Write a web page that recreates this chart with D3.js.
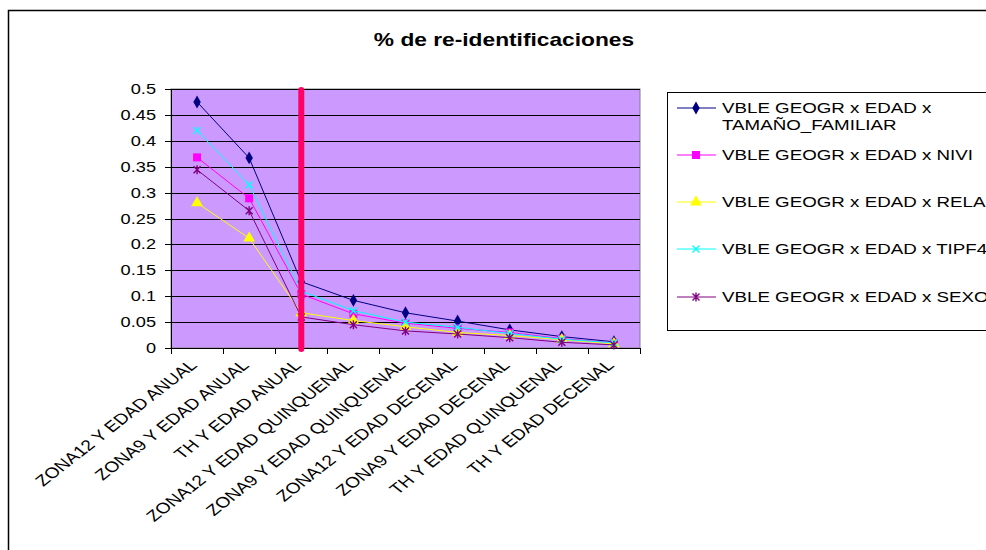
<!DOCTYPE html>
<html lang="es">
<head>
    <meta charset="utf-8">
    <title>% de re-identificaciones</title>
    <script src="https://cdn.jsdelivr.net/npm/d3@7"></script>
    <style type="text/css">
        body { margin: 0; background: #fff; }
        text { font-family: "Liberation Sans", Arial, sans-serif; fill: #000; }
    </style>
</head>
<body>
    <div id="chart"></div>
    <script>
        // categories on the x axis
        var categories = ["ZONA12 Y EDAD ANUAL", "ZONA9 Y EDAD ANUAL", "TH Y EDAD ANUAL",
            "ZONA12 Y EDAD QUINQUENAL", "ZONA9 Y EDAD QUINQUENAL", "ZONA12 Y EDAD DECENAL",
            "ZONA9 Y EDAD DECENAL", "TH Y EDAD QUINQUENAL", "TH Y EDAD DECENAL"];

        var seriesNames = ["VBLE GEOGR x EDAD x TAMAÑO_FAMILIAR", "VBLE GEOGR x EDAD x NIVI",
            "VBLE GEOGR x EDAD x RELA", "VBLE GEOGR x EDAD x TIPF4", "VBLE GEOGR x EDAD x SEXO"];

        var tamanoValues = [0.475, 0.367, 0.128, 0.092, 0.068, 0.052, 0.035, 0.022, 0.012];
        var niviValues = [0.368, 0.289, 0.104, 0.066, 0.048, 0.038, 0.030, 0.018, 0.010];
        var relaValues = [0.280, 0.212, 0.068, 0.053, 0.041, 0.030, 0.024, 0.016, 0.008];
        var tipfValues = [0.420, 0.315, 0.110, 0.072, 0.050, 0.040, 0.028, 0.017, 0.010];
        var sexoValues = [0.344, 0.265, 0.060, 0.045, 0.033, 0.027, 0.020, 0.011, 0.006];

        var yTicks = [0, 0.05, 0.1, 0.15, 0.2, 0.25, 0.3, 0.35, 0.4, 0.45, 0.5];
        var markedCategory = "TH Y EDAD ANUAL";

        var series = [
            { name: seriesNames[0], values: tamanoValues, color: "#000080", marker: "diamond" },
            { name: seriesNames[1], values: niviValues, color: "#FF00FF", marker: "square" },
            { name: seriesNames[2], values: relaValues, color: "#FFFF00", marker: "triangle" },
            { name: seriesNames[3], values: tipfValues, color: "#00FFFF", marker: "cross" },
            { name: seriesNames[4], values: sexoValues, color: "#800080", marker: "star" }
        ];

        var width = 986, height = 550;
        var plot = { left: 171, top: 89, right: 640, bottom: 348 };
        var stretch = 1.3; // the picture's text is wide, like a stretched screenshot

        var svg = d3.select("#chart").append("svg")
            .attr("width", width)
            .attr("height", height);

        // text placed at (x,y) and widened horizontally
        function wideText(parent, tx, ty, size, sx, extra) {
            return parent.append("text")
                .attr("transform", "translate(" + tx + "," + ty + ") scale(" + sx + ",1)" + (extra || ""))
                .attr("font-size", size);
        }

        // outer chart frame (runs off the right and bottom edges)
        svg.append("rect")
            .attr("x", 8.5).attr("y", 10.5)
            .attr("width", 1000).attr("height", 600)
            .attr("fill", "#fff")
            .attr("stroke", "#000")
            .attr("stroke-width", 1.5);

        wideText(svg, 504, 46, 17.5, stretch)
            .attr("text-anchor", "middle")
            .attr("font-weight", "bold")
            .text("% de re-identificaciones");

        var x = d3.scaleBand().domain(categories).range([plot.left, plot.right]);
        var y = d3.scaleLinear().domain([0, 0.5]).range([plot.bottom, plot.top]);

        // plot background
        svg.append("rect")
            .attr("x", plot.left).attr("y", plot.top)
            .attr("width", plot.right - plot.left).attr("height", plot.bottom - plot.top)
            .attr("fill", "#CC99FF")
            .attr("stroke", "#808080");

        // gridlines
        svg.append("g").selectAll("line")
            .data(yTicks.filter(function (d) { return d > 0; }))
            .enter().append("line")
            .attr("x1", plot.left).attr("x2", plot.right)
            .attr("y1", function (d) { return Math.round(y(d)) + 0.5; })
            .attr("y2", function (d) { return Math.round(y(d)) + 0.5; })
            .attr("stroke", "#000")
            .attr("stroke-width", 1);

        // y axis
        var yAxis = svg.append("g");
        yAxis.append("line")
            .attr("x1", plot.left + 0.5).attr("x2", plot.left + 0.5)
            .attr("y1", plot.top).attr("y2", plot.bottom + 6)
            .attr("stroke", "#000");
        yAxis.selectAll(".tick")
            .data(yTicks)
            .enter().append("line")
            .attr("x1", plot.left - 6).attr("x2", plot.left)
            .attr("y1", function (d) { return Math.round(y(d)) + 0.5; })
            .attr("y2", function (d) { return Math.round(y(d)) + 0.5; })
            .attr("stroke", "#000");
        yTicks.forEach(function (d) {
            wideText(yAxis, 156, y(d) + 5, 14, stretch)
                .attr("text-anchor", "end")
                .text(String(d));
        });

        // x axis with ticks between categories
        var xTickPos = d3.range(categories.length + 1).map(function (i) {
            return plot.left + i * x.step();
        });
        var xAxis = svg.append("g");
        xAxis.append("line")
            .attr("x1", plot.left - 6).attr("x2", plot.right)
            .attr("y1", plot.bottom + 0.5).attr("y2", plot.bottom + 0.5)
            .attr("stroke", "#000");
        xAxis.selectAll(".tick")
            .data(xTickPos)
            .enter().append("line")
            .attr("x1", function (d) { return Math.round(d) + 0.5; })
            .attr("x2", function (d) { return Math.round(d) + 0.5; })
            .attr("y1", plot.bottom).attr("y2", plot.bottom + 6)
            .attr("stroke", "#000");
        categories.forEach(function (d) {
            var cx = x(d) + x.bandwidth() / 2;
            wideText(xAxis, cx + 1, plot.bottom + 18, 15, 1.28, " rotate(-45)")
                .attr("text-anchor", "end")
                .text(d);
        });

        // series lines and markers
        var line = d3.line()
            .x(function (d, i) { return x(categories[i]) + x.bandwidth() / 2; })
            .y(function (d) { return y(d); });

        function markerPath(type) {
            if (type === "diamond") return d3.symbol().type(d3.symbolDiamond).size(48)();
            if (type === "square") return d3.symbol().type(d3.symbolSquare).size(64)();
            if (type === "triangle") return d3.symbol().type(d3.symbolTriangle).size(60)();
            if (type === "cross") return "M-3.5,-3.5L3.5,3.5M-3.5,3.5L3.5,-3.5";
            return "M-3.5,-3.5L3.5,3.5M-3.5,3.5L3.5,-3.5M0,-4.5V4.5";
        }

        function drawMarker(g, s) {
            var p = g.append("path").attr("d", markerPath(s.marker));
            if (s.marker === "cross" || s.marker === "star") {
                p.attr("fill", "none").attr("stroke", s.color).attr("stroke-width", 1.4);
            } else {
                p.attr("fill", s.color).attr("stroke", "none");
            }
        }

        series.forEach(function (s) {
            svg.append("path")
                .datum(s.values)
                .attr("d", line)
                .attr("fill", "none")
                .attr("stroke", s.color)
                .attr("stroke-width", 1);
            s.values.forEach(function (v, i) {
                var g = svg.append("g")
                    .attr("transform", "translate(" + (x(categories[i]) + x.bandwidth() / 2) + "," + y(v) + ")");
                drawMarker(g, s);
            });
        });

        // highlighted category line
        var mx = x(markedCategory) + x.bandwidth() / 2;
        svg.append("line")
            .attr("x1", mx).attr("x2", mx)
            .attr("y1", plot.top + 1).attr("y2", plot.bottom + 1)
            .attr("stroke", "#FF0066")
            .attr("stroke-width", 6)
            .attr("stroke-linecap", "round");

        // legend
        var legend = svg.append("g");
        legend.append("rect")
            .attr("x", 667.5).attr("y", 92.5)
            .attr("width", 400).attr("height", 238)
            .attr("fill", "#fff")
            .attr("stroke", "#000");

        var legendY = [108, 155, 202, 249, 297];
        series.forEach(function (s, i) {
            var ly = legendY[i];
            legend.append("line")
                .attr("x1", 677).attr("x2", 716)
                .attr("y1", ly).attr("y2", ly)
                .attr("stroke", s.color);
            var g = legend.append("g").attr("transform", "translate(696," + ly + ")");
            drawMarker(g, s);
            var t = wideText(legend, 722, ly + 5, 15, 1.25);
            if (i === 0) {
                t.append("tspan").attr("x", 0).text("VBLE GEOGR x EDAD x");
                t.append("tspan").attr("x", 0).attr("dy", 17).text("TAMAÑO_FAMILIAR");
            } else {
                t.text(s.name);
            }
        });
    </script>
</body>
</html>
